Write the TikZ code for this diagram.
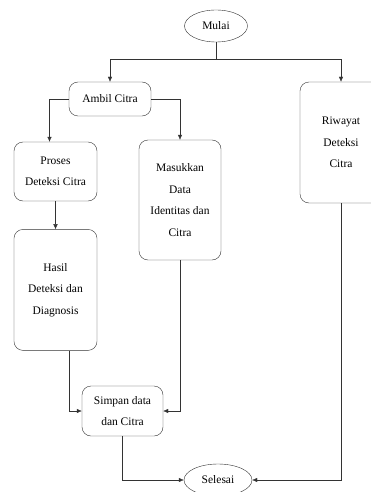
\documentclass[tikz,border=0pt]{standalone}
\usepackage{fontspec}
\setmainfont{Liberation Serif}
\usetikzlibrary{shapes, arrows.meta, positioning}
\tikzset{
    x=1pt, y=-1pt, line width=1.1pt, % one unit is one pt, y grows downwards
    box/.style ={rectangle, rounded corners=9pt, draw=black!80, align=center, inner sep=2pt, font=\fontsize{11.5}{21.5}\selectfont}, % process step
    term/.style ={ellipse, draw=black!80, inner sep=0pt, font=\fontsize{11.5}{21.5}\selectfont}, % start and end
    flow/.style ={draw=black!80, -{Latex[length=5pt,width=4.5pt]}}
}
\begin{document}
\begin{tikzpicture}
    \useasboundingbox (0,0) rectangle (370,492);
    % a is the start node
    \node[term, minimum width=63pt, minimum height=32pt] (a) at (216,26) {Mulai};

    \node[box, minimum width=82pt, minimum height=34pt] (b) at (110,99) {Ambil Citra};
    \node[box, minimum width=83pt, minimum height=59pt] (c) at (55.5,171.5) {Proses\\Deteksi Citra};
    \node[box, minimum width=83pt, minimum height=121pt] (f) [below=28pt of c] {Hasil\\Deteksi dan\\Diagnosis};
    \node[box, minimum width=82pt, minimum height=120pt] (d) at (180,200) {Masukkan\\Data\\Identitas dan\\Citra};
    \node[box, minimum width=82pt, minimum height=121pt] (e) at (341,142.5) {Riwayat\\Deteksi\\Citra};
    \node[box, minimum width=81pt, minimum height=50pt] (g) at (122.5,411) {Simpan data\\dan Citra};
    \node[term, minimum width=68pt, minimum height=32pt] (h) at (218,480) {Selesai};

    % branches
    \draw[flow] (a.south) -- ++(0,17) -| (b.north);
    \draw[flow] (a.south) -- ++(0,17) -| (e.north);
    \draw[flow] (b.west) -| ([xshift=-6pt]c.north);
    \draw[flow] (b.east) -| (d.north);
    \draw[flow] (c) -- (f);

    % merging
    \draw[flow] ([xshift=13.5pt]f.south) |- (g.west);
    \draw[flow] (d.south) |- (g.east);
    \draw[flow] (g.south) |- (h.west);
    \draw[flow] (e.south) |- (h.east);
\end{tikzpicture}
\end{document}
